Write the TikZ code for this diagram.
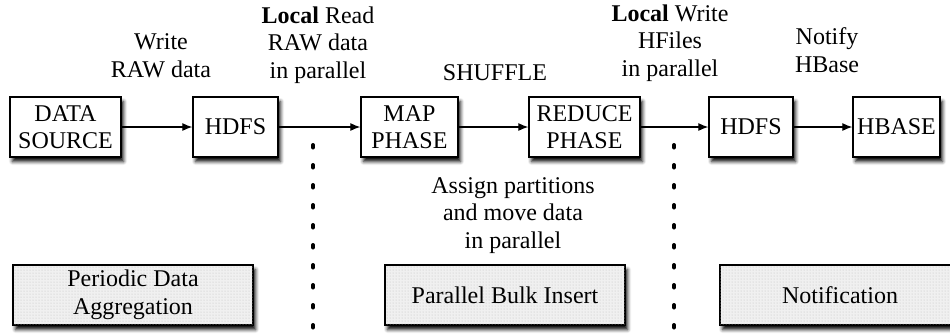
\documentclass[tikz,border=0pt]{standalone}
\usepackage{fontspec}
\setmainfont{Liberation Serif}
\usetikzlibrary{arrows.meta,shadows.blur,patterns}
\begin{document}
\begin{tikzpicture}[x=1pt,y=-1pt,
  txt/.style={font=\fontsize{24}{27.5}\selectfont, align=center, inner sep=0pt},
  box/.style={txt, draw, line width=1.3pt, fill=white, minimum height=60pt,
    blur shadow={shadow xshift=2.5pt, shadow yshift=-4.5pt, shadow blur radius=3.5pt, shadow opacity=95}},
  gbox/.style={box, fill=gray!12, minimum width=240pt,
    postaction={pattern=dots, pattern color=gray!50}},
  lbl/.style={txt, anchor=base},
  arr/.style={line width=1.2pt, -{Latex[length=10pt,width=8pt]}},
  sep/.style={line width=4pt, line cap=round, dash pattern=on 2.5pt off 17.5pt}
]
\useasboundingbox (0,0) rectangle (950,333);
\node[box, minimum width=111pt] (ds) at (65.5,127) {DATA\\SOURCE};
\node[box, minimum width=85pt] (h1) at (235.5,127) {HDFS};
\node[box, minimum width=97pt] (map) at (409.5,127) {MAP\\PHASE};
\node[box, minimum width=111pt] (red) at (584.5,127) {REDUCE\\PHASE};
\node[box, minimum width=84pt] (h2) at (751,127) {HDFS};
\node[box, minimum width=87pt] (hb) at (896.5,127) {HBASE};

\draw[arr] (ds) -- (h1);
\draw[arr] (h1) -- (map);
\draw[arr] (map) -- (red);
\draw[arr] (red) -- (h2);
\draw[arr] (h2) -- (hb);

\node[lbl] (l1) at (161,77) {Write\\RAW data};
\node[lbl] (l2) at (318,78) {\textbf{Local} Read\\RAW data\\in parallel};
\node[lbl] (l3) at (495,80) {SHUFFLE};
\node[lbl] (l4) at (670,76) {\textbf{Local} Write\\HFiles\\in parallel};
\node[lbl] (l5) at (827,72) {Notify\\HBase};
\node[lbl] (l6) at (513,248) {Assign partitions\\and move data\\in parallel};

\coordinate (s1a) at (313,145);
\coordinate (s1b) at (313,340);
\coordinate (s2a) at (674,145);
\coordinate (s2b) at (674,340);
\draw[sep] (s1a) -- (s1b);
\draw[sep] (s2a) -- (s2b);

\node[gbox] (pda) at (133,295) {Periodic Data\\Aggregation};
\node[gbox] (pbi) at (505,295) {Parallel Bulk Insert};
\node[gbox] (nt) at (840,295) {Notification};
\end{tikzpicture}
\end{document}
